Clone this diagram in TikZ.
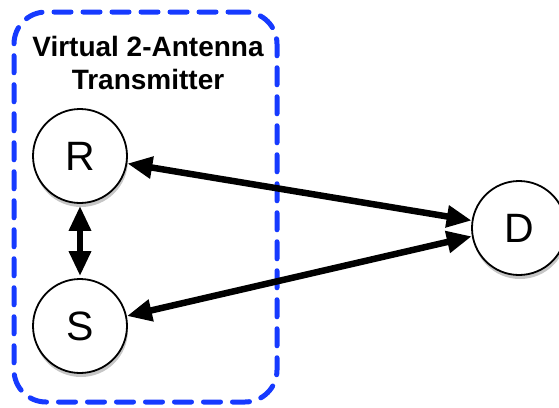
\documentclass[tikz,border=0pt]{standalone}
\usepackage{fontspec}
\setmainfont{Liberation Sans}
\usetikzlibrary{arrows.meta,shadows}
\definecolor{boxblue}{RGB}{22,58,255}
\begin{document}
\begin{tikzpicture}[x=1pt,y=-1pt,
  station/.style={circle,draw,line width=1.8pt,fill=white,minimum size=94pt,inner sep=0pt,
    font=\fontsize{41}{44}\selectfont,
    drop shadow={shadow xshift=1pt,shadow yshift=-4pt,opacity=0.45}},
  link/.style={line width=6.5pt,{Triangle[length=25pt,width=21pt]}-{Triangle[length=25pt,width=21pt]}},
  group/.style={draw=boxblue,line width=5pt,rounded corners=32pt,dash pattern=on 17pt off 12pt,line cap=round,
    rectangle,minimum width=263pt,minimum height=390pt,inner sep=0pt}]
\useasboundingbox (0,0) rectangle (559,407);
\node (grp) [group] at (145.5,207) {};
\node (title) [align=center,font=\bfseries\fontsize{28}{33}\selectfont] at (148,63) {Virtual 2-Antenna\\Transmitter};
\node (R) [station] at (80,156) {R};
\node (S) [station] at (80,326) {S};
\node (D) [station] at (519,228) {D};
\draw[link] (R.-9) -- (D.171);
\draw[link] (S.12) -- (D.190);
\draw[link,shorten <=2pt,shorten >=2pt] (R.south) -- (S.north);
\end{tikzpicture}
\end{document}
